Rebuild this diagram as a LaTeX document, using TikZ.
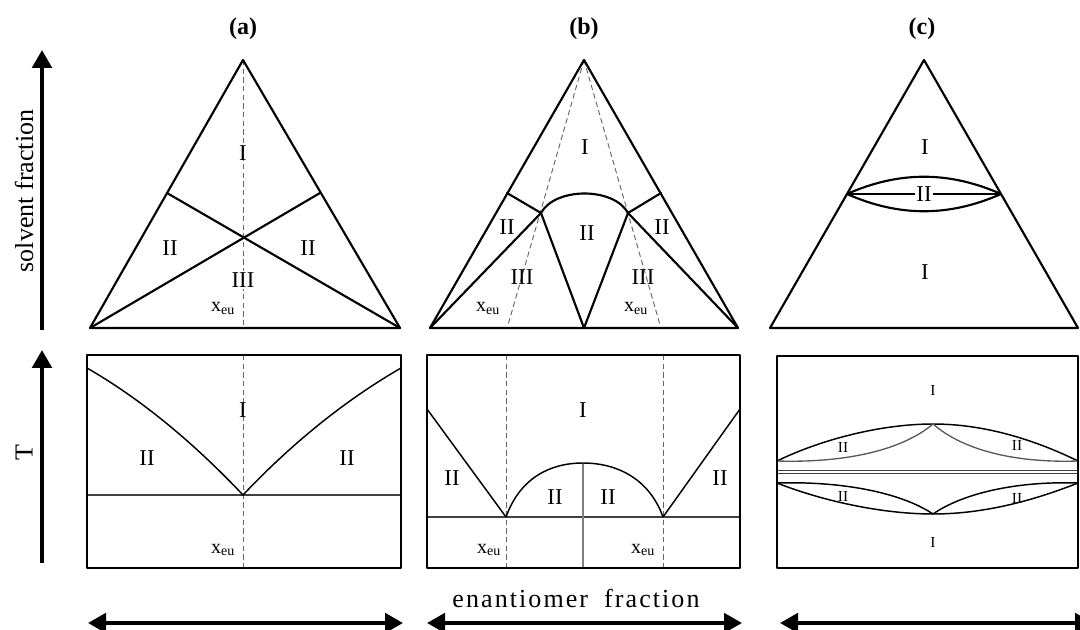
\documentclass[tikz,border=0pt]{standalone}
\usepackage{fontspec}
\setmainfont{Liberation Serif}
\usetikzlibrary{arrows.meta}
\begin{document}
\begin{tikzpicture}[x=0.75pt,y=-0.75pt,
  edge/.style={line width=1.6pt, line join=round, line cap=round},
  curve/.style={line width=1.1pt},
  eut/.style={line width=1pt, draw=black!75},
  grayline/.style={line width=1pt, draw=black!50},
  innercurve/.style={line width=1pt, draw=black!65},
  dashline/.style={dash pattern=on 4pt off 2.5pt, draw=black!60, line width=0.7pt},
  lbl/.style={font=\fontsize{17}{19}\selectfont, inner sep=0pt},
  slbl/.style={font=\fontsize{11.5}{13}\selectfont, inner sep=0pt},
  xlbl/.style={font=\fontsize{15}{17}\selectfont, inner sep=0pt, anchor=base},
  title/.style={font=\bfseries\fontsize{18}{20}\selectfont, inner sep=0pt},
  axlbl/.style={font=\fontsize{19.5}{22}\selectfont, inner sep=0pt},
  vaxis/.style={line width=3.3pt, -{Triangle[length=13.5pt,width=14.5pt]}},
  haxis/.style={line width=3pt, {Triangle[length=13.5pt,width=14.5pt]}-{Triangle[length=13.5pt,width=14.5pt]}}
]
\useasboundingbox (0,0) rectangle (1080,630);

% ---------- axes ----------
\coordinate (sv0) at (42,330); \coordinate (sv1) at (42,50);
\draw[vaxis] (sv0) -- (sv1);
\node[axlbl, rotate=90] (svl) at (24,191) {solvent fraction};
\coordinate (t0) at (42,563); \coordinate (t1) at (42,350);
\draw[vaxis] (t0) -- (t1);
\node[axlbl, rotate=90] (tl) at (24,453) {T};

\coordinate (ha0) at (88,623); \coordinate (ha1) at (403,623);
\draw[haxis] (ha0) -- (ha1);
\coordinate (hb0) at (427,623); \coordinate (hb1) at (742,623);
\draw[haxis] (hb0) -- (hb1);
\coordinate (hc0) at (780,623); \coordinate (hc1) at (1093,623);
\draw[haxis] (hc0) -- (hc1);
\node[axlbl, anchor=base] (ef) at (576,607) {\addfontfeature{LetterSpace=8}enantiomer\hspace{12pt}fraction};

% ---------- titles ----------
\node[title] (ta) at (243,29) {(a)};
\node[title] (tb) at (584,29) {(b)};
\node[title] (tc) at (922,29) {(c)};

% ---------- triangle (a) ----------
\coordinate (aT) at (243,60); \coordinate (aL) at (90,328); \coordinate (aR) at (400,328);
\coordinate (aM) at (243,328); \coordinate (aSL) at (167,193); \coordinate (aSR) at (320,193);
\draw[dashline] (aT) -- (aM);
\draw[edge] (aL) -- (aT) -- (aR) -- cycle;
\draw[edge] (aSL) -- (aR);
\draw[edge] (aSR) -- (aL);
\node[lbl] (aI) at (243,153) {I};
\node[lbl] (aII1) at (170,248) {II};
\node[lbl] (aII2) at (308,248) {II};
\node[lbl, fill=white, inner sep=1pt] (aIII) at (243,280) {III};
\node[xlbl] (ax) at (223,312) {x\textsubscript{eu}};

% ---------- triangle (b) ----------
\coordinate (bT) at (584,60); \coordinate (bL) at (430,328); \coordinate (bR) at (738,328);
\coordinate (bM) at (584,328); \coordinate (bSL) at (507,193); \coordinate (bSR) at (661,193);
\coordinate (bIL) at (541,213); \coordinate (bIR) at (628,213);
\coordinate (bDL) at (508,325); \coordinate (bDR) at (660,325);
\draw[dashline] (bT) -- (bDL);
\draw[dashline] (bT) -- (bDR);
\draw[edge] (bL) -- (bT) -- (bR) -- cycle;
\draw[edge] (bSL) -- (bIL) -- (bM) -- (bIR) -- (bSR);
\draw[edge] (bL) -- (bIL);
\draw[edge] (bIR) -- (bR);
\draw[edge] (bIL) .. controls (555,187) and (614,187) .. (bIR);
\node[lbl] (bI) at (585,147) {I};
\node[lbl] (bII1) at (507,227) {II};
\node[lbl] (bII2) at (587,233) {II};
\node[lbl] (bII3) at (662,227) {II};
\node[lbl] (bIII1) at (522,277) {III};
\node[lbl] (bIII2) at (643,277) {III};
\node[xlbl] (bx1) at (488,312) {x\textsubscript{eu}};
\node[xlbl] (bx2) at (636,312) {x\textsubscript{eu}};

% ---------- triangle (c) ----------
\coordinate (cT) at (924,60); \coordinate (cL) at (770,328); \coordinate (cR) at (1078,328);
\coordinate (cSL) at (847,194); \coordinate (cSR) at (1001,194);
\draw[edge] (cL) -- (cT) -- (cR) -- cycle;
\draw[edge] (cSL) .. controls (899,171) and (949,171) .. (cSR);
\draw[edge] (cSL) .. controls (899,217) and (949,217) .. (cSR);
\draw[edge] (cSL) -- (cSR);
\node[lbl, fill=white, inner sep=1pt] (cII) at (924,194) {II};
\node[lbl] (cI1) at (925,147) {I};
\node[lbl] (cI2) at (925,272) {I};

% ---------- box (a) ----------
\coordinate (aB1) at (87,355); \coordinate (aB2) at (401,568);
\coordinate (aEl) at (87,495); \coordinate (aEr) at (401,495); \coordinate (aE) at (243,495);
\coordinate (aD0) at (243,355); \coordinate (aD1) at (243,570);
\coordinate (aCl) at (87,368); \coordinate (aCr) at (401,368);
\draw[dashline] (aD0) -- (aD1);
\draw[eut] (aEl) -- (aEr);
\draw[curve] (aCl) .. controls (139,398) and (191,440) .. (aE) .. controls (295,440) and (349,398) .. (aCr);
\draw[edge] (aB1) rectangle (aB2);
\node[lbl] (aBI) at (243,410) {I};
\node[lbl] (aBII1) at (147,458) {II};
\node[lbl] (aBII2) at (347,458) {II};
\node[xlbl] (aBx) at (223,553) {x\textsubscript{eu}};

% ---------- box (b) ----------
\coordinate (bB1) at (427,355); \coordinate (bB2) at (740,568);
\coordinate (bEl) at (427,517); \coordinate (bEr) at (740,517);
\coordinate (bE1) at (506,517); \coordinate (bE2) at (663,517);
\coordinate (bP) at (583,463); \coordinate (bPb) at (583,568);
\coordinate (bCl) at (427,409); \coordinate (bCr) at (740,409);
\coordinate (bD1a) at (506,355); \coordinate (bD1b) at (506,570);
\coordinate (bD2a) at (663,355); \coordinate (bD2b) at (663,570);
\draw[dashline] (bD1a) -- (bD1b);
\draw[dashline] (bD2a) -- (bD2b);
\draw[eut] (bEl) -- (bEr);
\draw[grayline] (bP) -- (bPb);
\draw[curve] (bCl) -- (bE1);
\draw[curve] (bE2) -- (bCr);
\draw[curve] (bE1) .. controls (520,478) and (550,463) .. (bP) .. controls (616,463) and (649,478) .. (bE2);
\draw[edge] (bB1) rectangle (bB2);
\node[lbl] (bBI) at (583,410) {I};
\node[lbl] (bBII1) at (452,478) {II};
\node[lbl] (bBII2) at (555,497) {II};
\node[lbl] (bBII3) at (608,497) {II};
\node[lbl] (bBII4) at (720,478) {II};
\node[xlbl] (bBx1) at (489,553) {x\textsubscript{eu}};
\node[xlbl] (bBx2) at (643,553) {x\textsubscript{eu}};

% ---------- box (c) ----------
\coordinate (cB1) at (777,356); \coordinate (cB2) at (1078,568);
\coordinate (cUl) at (777,461); \coordinate (cUr) at (1078,461); \coordinate (cUp) at (933,424);
\coordinate (cLl) at (777,483); \coordinate (cLr) at (1078,483); \coordinate (cLp) at (933,514);
\coordinate (cH1l) at (777,470.5); \coordinate (cH1r) at (1078,470.5);
\coordinate (cH2l) at (777,473.8); \coordinate (cH2r) at (1078,473.8);
\draw[line width=0.8pt, draw=black!75] (cH1l) -- (cH1r);
\draw[line width=0.8pt, draw=black!75] (cH2l) -- (cH2r);
\draw[curve] (cUl) .. controls (820,440) and (880,424) .. (cUp) .. controls (985,424) and (1035,440) .. (cUr);
\draw[innercurve] (cUl) .. controls (840,463) and (900,452) .. (cUp);
\draw[innercurve] (cUp) .. controls (965,452) and (1020,463) .. (cUr);
\draw[curve] (cLl) .. controls (820,500) and (880,514) .. (cLp) .. controls (985,514) and (1035,500) .. (cLr);
\draw[curve] (cLl) .. controls (840,481) and (900,492) .. (cLp);
\draw[curve] (cLp) .. controls (965,492) and (1020,481) .. (cLr);
\draw[edge] (cB1) rectangle (cB2);
\node[slbl] (cBI1) at (933,390) {I};
\node[slbl] (cBI2) at (933,542) {I};
\node[slbl] (cBII1) at (843,447) {II};
\node[slbl] (cBII2) at (1017,445) {II};
\node[slbl] (cBII3) at (843,496) {II};
\node[slbl] (cBII4) at (1017,498) {II};
\end{tikzpicture}
\end{document}
